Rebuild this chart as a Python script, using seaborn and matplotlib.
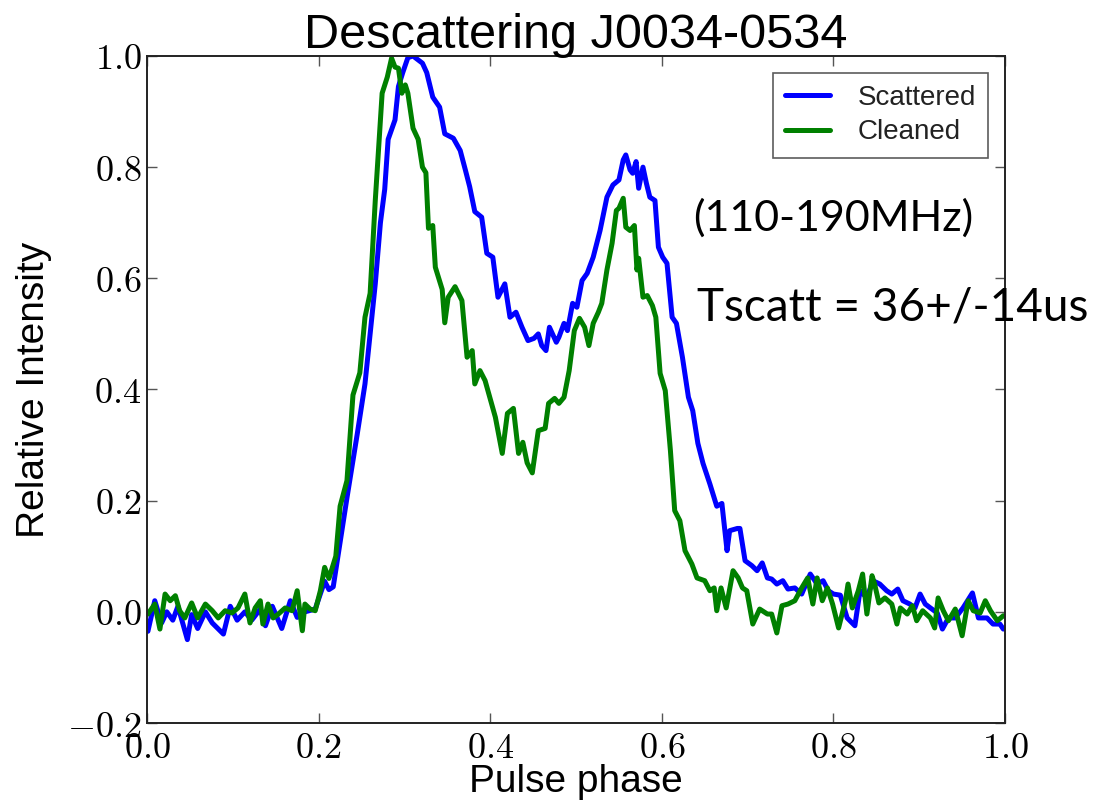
import matplotlib
matplotlib.use("Agg")
import matplotlib.pyplot as plt
import seaborn as sns
import numpy as np
from matplotlib.ticker import FuncFormatter, MultipleLocator

# ---------------- data ----------------
scattered_phase = [
    0.001, 0.009, 0.017, 0.023, 0.030, 0.036, 0.047, 0.052, 0.059, 0.068,
    0.076, 0.089, 0.097, 0.105, 0.114, 0.122, 0.132, 0.138, 0.146, 0.157,
    0.167, 0.175, 0.184, 0.196, 0.207, 0.212, 0.217, 0.233, 0.245, 0.254,
    0.260, 0.266, 0.272, 0.277, 0.281, 0.289, 0.293, 0.298, 0.304, 0.310,
    0.321, 0.326, 0.333, 0.341, 0.347, 0.357, 0.365, 0.371, 0.376, 0.382,
    0.390, 0.396, 0.403, 0.409, 0.417, 0.423, 0.430, 0.437, 0.444, 0.451,
    0.456, 0.460, 0.465, 0.469, 0.477, 0.480, 0.486, 0.490, 0.496, 0.501,
    0.507, 0.513, 0.520, 0.528, 0.536, 0.543, 0.550, 0.555, 0.558, 0.563,
    0.566, 0.570, 0.573, 0.578, 0.582, 0.586, 0.592, 0.596, 0.601, 0.606,
    0.612, 0.617, 0.624, 0.631, 0.636, 0.642, 0.648, 0.656, 0.664, 0.670,
    0.676, 0.679, 0.688, 0.691, 0.697, 0.705, 0.711, 0.717, 0.723, 0.728,
    0.734, 0.741, 0.747, 0.755, 0.763, 0.773, 0.781, 0.788, 0.794, 0.800,
    0.808, 0.816, 0.825, 0.831, 0.839, 0.846, 0.854, 0.862, 0.868, 0.875,
    0.881, 0.889, 0.895, 0.901, 0.907, 0.913, 0.921, 0.927, 0.934, 0.942,
    0.951, 0.962, 0.969, 0.979, 0.986, 0.994, 0.998,
]
scattered_value = [
    -0.035, 0.020, -0.020, 0.000, -0.015, 0.010, -0.050, -0.005, -0.030, 0.000,
    -0.020, -0.040, 0.010, -0.015, 0.000, -0.015, 0.005, -0.025, 0.010, -0.030,
    0.020, -0.010, 0.000, 0.005, 0.055, 0.040, 0.045, 0.205, 0.320, 0.410,
    0.500, 0.590, 0.700, 0.760, 0.850, 0.885, 0.945, 0.970, 0.997, 1.000,
    0.987, 0.970, 0.926, 0.908, 0.860, 0.852, 0.830, 0.795, 0.765, 0.720,
    0.710, 0.645, 0.638, 0.566, 0.590, 0.530, 0.539, 0.512, 0.488, 0.492,
    0.500, 0.479, 0.470, 0.512, 0.485, 0.494, 0.519, 0.506, 0.555, 0.548,
    0.596, 0.609, 0.638, 0.686, 0.746, 0.768, 0.777, 0.813, 0.822, 0.795,
    0.789, 0.810, 0.762, 0.800, 0.771, 0.746, 0.740, 0.656, 0.638, 0.627,
    0.530, 0.519, 0.458, 0.386, 0.362, 0.303, 0.267, 0.230, 0.190, 0.195,
    0.110, 0.146, 0.150, 0.150, 0.092, 0.083, 0.074, 0.088, 0.061, 0.059,
    0.050, 0.056, 0.041, 0.043, 0.032, 0.068, 0.050, 0.056, 0.038, 0.032,
    0.030, -0.011, -0.025, 0.038, 0.025, 0.056, 0.050, 0.038, 0.032, 0.041,
    0.020, 0.014, 0.007, 0.032, 0.014, 0.007, -0.002, -0.031, -0.011, -0.011,
    0.007, 0.034, -0.011, -0.011, -0.022, -0.022, -0.031,
]

cleaned_phase = [
    0.001, 0.009, 0.015, 0.021, 0.027, 0.033, 0.038, 0.044, 0.052, 0.059,
    0.068, 0.076, 0.083, 0.091, 0.099, 0.106, 0.114, 0.120, 0.126, 0.132,
    0.135, 0.141, 0.147, 0.153, 0.161, 0.169, 0.175, 0.181, 0.184, 0.190,
    0.196, 0.202, 0.207, 0.212, 0.220, 0.225, 0.233, 0.240, 0.248, 0.254,
    0.260, 0.266, 0.274, 0.280, 0.285, 0.289, 0.293, 0.297, 0.301, 0.304,
    0.310, 0.316, 0.321, 0.325, 0.328, 0.333, 0.336, 0.340, 0.344, 0.347,
    0.351, 0.359, 0.367, 0.373, 0.379, 0.382, 0.388, 0.394, 0.406, 0.414,
    0.420, 0.427, 0.433, 0.438, 0.443, 0.449, 0.456, 0.464, 0.468, 0.475,
    0.480, 0.486, 0.492, 0.498, 0.504, 0.510, 0.515, 0.520, 0.526, 0.530,
    0.536, 0.542, 0.547, 0.550, 0.555, 0.558, 0.563, 0.568, 0.571, 0.573,
    0.578, 0.583, 0.589, 0.593, 0.598, 0.604, 0.610, 0.615, 0.621, 0.627,
    0.635, 0.641, 0.650, 0.656, 0.661, 0.664, 0.669, 0.675, 0.683, 0.689,
    0.694, 0.699, 0.706, 0.714, 0.723, 0.728, 0.734, 0.740, 0.747, 0.755,
    0.763, 0.770, 0.776, 0.781, 0.787, 0.793, 0.799, 0.806, 0.814, 0.817,
    0.822, 0.829, 0.834, 0.839, 0.845, 0.848, 0.853, 0.860, 0.868, 0.874,
    0.878, 0.886, 0.892, 0.897, 0.904, 0.913, 0.918, 0.922, 0.928, 0.934,
    0.942, 0.950, 0.957, 0.963, 0.971, 0.977, 0.983, 0.991, 0.998,
]
cleaned_value = [
    -0.004, 0.014, -0.031, 0.032, 0.020, 0.029, 0.002, -0.011, 0.016, -0.011,
    0.014, 0.002, -0.011, 0.002, -0.002, 0.007, 0.032, -0.020, 0.007, 0.020,
    -0.022, 0.014, -0.011, -0.004, 0.007, 0.002, 0.038, -0.034, 0.014, 0.005,
    0.002, 0.038, 0.080, 0.060, 0.100, 0.190, 0.236, 0.390, 0.430, 0.530,
    0.573, 0.740, 0.933, 0.962, 0.996, 0.980, 0.978, 0.933, 0.948, 0.933,
    0.870, 0.850, 0.800, 0.790, 0.690, 0.695, 0.620, 0.600, 0.580, 0.520,
    0.566, 0.585, 0.560, 0.458, 0.470, 0.410, 0.434, 0.416, 0.350, 0.285,
    0.357, 0.366, 0.285, 0.305, 0.268, 0.250, 0.326, 0.330, 0.375, 0.384,
    0.375, 0.386, 0.434, 0.506, 0.528, 0.512, 0.479, 0.519, 0.539, 0.555,
    0.615, 0.663, 0.722, 0.726, 0.744, 0.692, 0.686, 0.695, 0.615, 0.636,
    0.566, 0.569, 0.551, 0.530, 0.429, 0.398, 0.290, 0.182, 0.164, 0.110,
    0.086, 0.061, 0.056, 0.038, 0.043, 0.002, 0.043, 0.007, 0.074, 0.061,
    0.043, 0.038, -0.022, 0.005, -0.004, -0.004, -0.038, 0.011, 0.014, 0.020,
    0.043, 0.061, 0.014, 0.061, 0.020, 0.043, 0.014, -0.029, 0.020, 0.050,
    0.007, 0.038, 0.068, -0.004, 0.065, 0.050, 0.016, 0.025, 0.014, -0.022,
    0.007, -0.004, 0.011, -0.016, 0.002, -0.011, -0.029, 0.025, 0.002, -0.016,
    0.005, -0.043, 0.020, 0.002, -0.002, 0.020, 0.002, -0.016, -0.007,
]

series_labels = ["Scattered", "Cleaned"]
series_colors = ["#0000ff", "#008000"]
title_text = "Descattering J0034-0534"
x_label = "Pulse phase"
y_label = "Relative Intensity"
band_text = "(110-190MHz)"
tscatt_text = "Tscatt = 36+/-14us"

# ---------------- plotting ----------------
sns.set_style("ticks")
plt.rcParams["font.family"] = ["Liberation Sans", "DejaVu Sans"]
plt.rcParams["mathtext.fontset"] = "cm"
plt.rcParams["text.color"] = "black"
plt.rcParams["axes.labelcolor"] = "black"
plt.rcParams["xtick.color"] = "black"
plt.rcParams["ytick.color"] = "black"

fig = plt.figure(figsize=(10.99, 8.09), dpi=100)
ax = fig.add_axes([0.1338, 0.1063, 0.7807, 0.8245])

lw = 3.6
sns.lineplot(x=scattered_phase, y=scattered_value, ax=ax, color=series_colors[0],
             linewidth=lw, label=series_labels[0], estimator=None, sort=False)
sns.lineplot(x=cleaned_phase, y=cleaned_value, ax=ax, color=series_colors[1],
             linewidth=lw, label=series_labels[1], estimator=None, sort=False)

ax.set_xlim(0.0, 1.0)
ax.set_ylim(-0.2, 1.0)
ax.xaxis.set_major_locator(MultipleLocator(0.2))
ax.yaxis.set_major_locator(MultipleLocator(0.2))
fmt = FuncFormatter(lambda v, p: r"$%.1f$" % (0.0 if abs(v) < 1e-9 else v))
ax.xaxis.set_major_formatter(fmt)
ax.yaxis.set_major_formatter(fmt)
ax.tick_params(direction="in", top=True, right=True, length=7, width=1.0,
               labelsize=26, color="#555555", labelcolor="black")
ax.tick_params(axis="x", pad=6)
ax.tick_params(axis="y", pad=4)
for s in ax.spines.values():
    s.set_visible(True)
    s.set_color("#222222")
    s.set_linewidth(1.4)

ax.set_title(title_text, fontsize=35, pad=6, color="black")
ax.set_xlabel(x_label, fontsize=28, labelpad=-2)
ax.set_ylabel(y_label, fontsize=28, labelpad=11)

leg = ax.legend(loc="upper right", fontsize=20, frameon=True, fancybox=False,
                handlelength=1.6, handletextpad=1.0, labelspacing=0.3,
                borderaxespad=0.6, borderpad=0.45)
leg.get_frame().set_edgecolor("#333333")
leg.get_frame().set_linewidth(1.2)
for t in leg.get_texts():
    t.set_color("#222222")
for line in leg.get_lines():
    line.set_linewidth(3.6)

ax.text(0.636, 0.686, band_text, fontsize=31, family=["Lato", "DejaVu Sans"],
        va="baseline", ha="left", clip_on=False, color="black")
ax.text(0.641, 0.524, tscatt_text, fontsize=33, family=["Lato", "DejaVu Sans"],
        va="baseline", ha="left", clip_on=False, color="black")

fig.savefig("out.png", dpi=100)
